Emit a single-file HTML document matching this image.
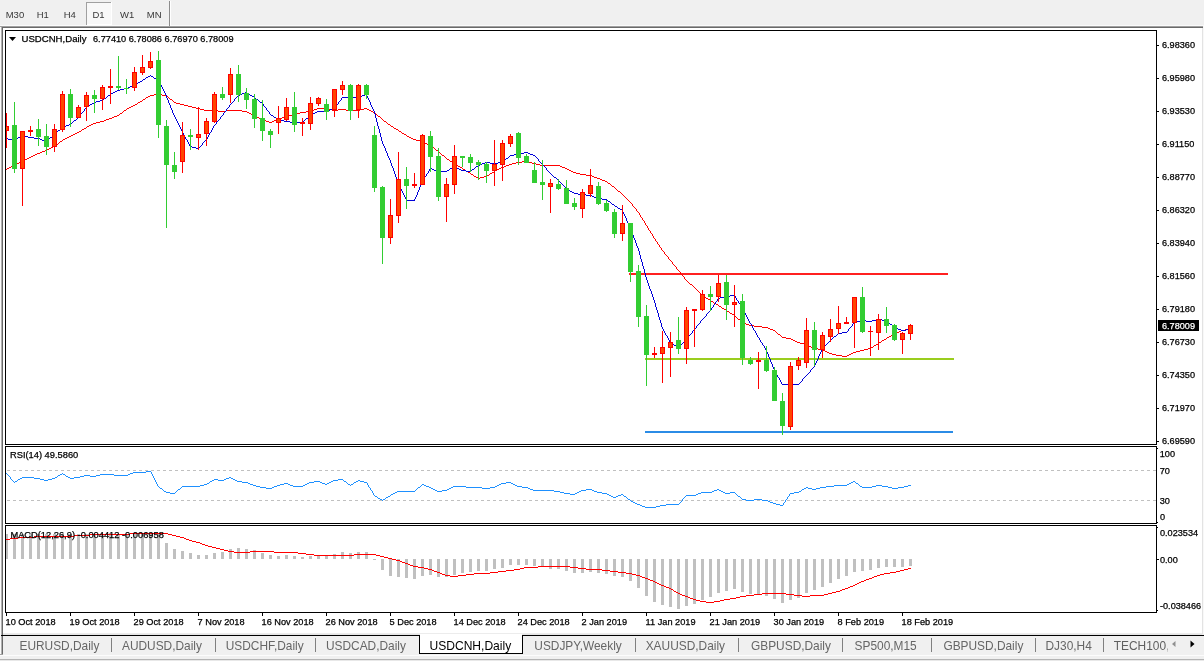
<!DOCTYPE html>
<html><head><meta charset="utf-8"><title>USDCNH,Daily</title>
<style>html,body{margin:0;padding:0;background:#f0f0f0;overflow:hidden}svg{display:block}text{font-family:"Liberation Sans",sans-serif;}</style></head><body>
<svg width="1204" height="661" viewBox="0 0 1204 661">
<g shape-rendering="crispEdges">
<rect x="0" y="0" width="1204" height="661" fill="#f0f0f0"/>
<rect x="0" y="25" width="1204" height="1" fill="#fafafa"/>
<rect x="0" y="26" width="1204" height="1" fill="#a0a0a0"/>
<rect x="1" y="27" width="1203" height="1" fill="#696969"/>
<rect x="3" y="28" width="1199" height="606" fill="#ffffff"/>
<rect x="0" y="27" width="1" height="628" fill="#fafafa"/>
<rect x="1" y="27" width="1" height="627" fill="#b0b0b0"/>
<rect x="2" y="27" width="1" height="627" fill="#696969"/>
<rect x="0" y="654" width="3" height="1" fill="#a0a0a0"/>
<rect x="86" y="2" width="26" height="23" fill="#f8f8f8"/>
<rect x="86" y="2" width="25" height="1" fill="#a0a0a0"/>
<rect x="86" y="2" width="1" height="23" fill="#a0a0a0"/>
<rect x="111" y="2" width="1" height="23" fill="#ffffff"/>
<rect x="87" y="24" width="25" height="1" fill="#ffffff"/>
<rect x="169" y="1" width="1" height="25" fill="#8c8c8c"/>
<rect x="170" y="1" width="1" height="25" fill="#ffffff"/>
<rect x="5.5" y="30.5" width="1151" height="414" fill="none" stroke="#000" stroke-width="1"/>
<rect x="5.5" y="446.5" width="1151" height="77" fill="none" stroke="#000" stroke-width="1"/>
<rect x="5.5" y="525.5" width="1151" height="87" fill="none" stroke="#000" stroke-width="1"/>
<rect x="629" y="273" width="319" height="2" fill="#ff2020"/>
<rect x="645" y="358" width="309" height="2" fill="#9acd1e"/>
<rect x="645" y="431" width="308" height="2" fill="#2b8ce6"/>
<clipPath id="cm"><rect x="6" y="31" width="1150" height="413"/></clipPath>
<g clip-path="url(#cm)">
<path d="M25 159h2v1h-2zM447 159h2v1h-2zM87 126h2v1h-2zM391 126h2v1h-2zM33 155h2v1h-2zM442 155h2v1h-2zM21 161h2v1h-2zM450 161h2v1h-2zM522 161h6v1h-6zM96 122h4v1h-4zM269 122h3v1h-3zM386 122h1v1h-1zM730 313h2v1h-2zM773 330h2v1h-2zM901 330h4v1h-4zM63 139h2v1h-2zM413 139h3v1h-3zM124 110h2v1h-2zM204 110h14v1h-14zM226 110h16v1h-16zM312 110h2v1h-2zM332 110h6v1h-6zM346 110h14v1h-14zM369 110h2v1h-2zM473 175h1v1h-1zM487 175h2v1h-2zM586 175h6v1h-6zM836 355h6v1h-6zM847 355h2v1h-2zM119 114h1v1h-1zM251 114h2v1h-2zM292 114h4v1h-4zM376 114h1v1h-1zM13 165h2v1h-2zM457 165h1v1h-1zM506 165h3v1h-3zM540 165h20v1h-20zM672 263h1v1h-1zM612 186h2v1h-2zM762 327h6v1h-6zM37 153h3v1h-3zM440 153h1v1h-1zM133 105h2v1h-2zM184 105h4v1h-4zM79 131h2v1h-2zM399 131h2v1h-2zM3 170h2v1h-2zM465 170h1v1h-1zM495 170h2v1h-2zM569 170h2v1h-2zM11 166h2v1h-2zM458 166h2v1h-2zM504 166h2v1h-2zM560 166h2v1h-2zM818 349h5v1h-5zM864 349h4v1h-4zM62 140h1v1h-1zM416 140h4v1h-4zM19 162h2v1h-2zM452 162h2v1h-2zM516 162h6v1h-6zM528 162h4v1h-4zM123 111h1v1h-1zM218 111h8v1h-8zM242 111h5v1h-5zM306 111h6v1h-6zM371 111h2v1h-2zM614 187h1v1h-1zM724 309h2v1h-2zM5 169h2v1h-2zM463 169h2v1h-2zM497 169h2v1h-2zM567 169h2v1h-2zM471 174h2v1h-2zM489 174h1v1h-1zM580 174h6v1h-6zM148 96h2v1h-2zM167 96h1v1h-1zM746 324h3v1h-3zM131 106h2v1h-2zM188 106h4v1h-4zM53 146h2v1h-2zM431 146h1v1h-1zM1 171h2v1h-2zM466 171h2v1h-2zM494 171h1v1h-1zM571 171h2v1h-2zM474 176h2v1h-2zM484 176h3v1h-3zM592 176h2v1h-2zM122 112h1v1h-1zM247 112h2v1h-2zM300 112h6v1h-6zM373 112h2v1h-2zM636 210h1v1h-1zM832 354h4v1h-4zM849 354h2v1h-2zM106 119h3v1h-3zM261 119h3v1h-3zM277 119h3v1h-3zM382 119h1v1h-1zM65 138h2v1h-2zM411 138h2v1h-2zM127 108h2v1h-2zM196 108h4v1h-4zM317 108h11v1h-11zM364 108h3v1h-3zM126 109h1v1h-1zM200 109h4v1h-4zM314 109h3v1h-3zM328 109h4v1h-4zM338 109h8v1h-8zM360 109h4v1h-4zM367 109h2v1h-2zM701 294h1v1h-1zM727 311h2v1h-2zM827 352h2v1h-2zM853 352h3v1h-3zM776 332h1v1h-1zM897 332h2v1h-2zM75 133h2v1h-2zM402 133h2v1h-2zM109 118h3v1h-3zM259 118h2v1h-2zM280 118h2v1h-2zM381 118h1v1h-1zM154 94h8v1h-8zM754 326h8v1h-8zM661 248h1v1h-1zM690 284h2v1h-2zM742 322h2v1h-2zM702 295h1v1h-1zM56 144h2v1h-2zM427 144h2v1h-2zM782 337h4v1h-4zM887 337h2v1h-2zM29 157h2v1h-2zM445 157h1v1h-1zM-1 172h2v1h-2zM468 172h2v1h-2zM492 172h2v1h-2zM573 172h3v1h-3zM81 130h1v1h-1zM398 130h1v1h-1zM55 145h1v1h-1zM429 145h2v1h-2zM665 254h1v1h-1zM60 141h2v1h-2zM420 141h3v1h-3zM823 350h2v1h-2zM860 350h4v1h-4zM117 115h2v1h-2zM253 115h2v1h-2zM288 115h4v1h-4zM377 115h1v1h-1zM476 177h2v1h-2zM480 177h4v1h-4zM594 177h3v1h-3zM-2 173h1v1h-1zM470 173h1v1h-1zM490 173h2v1h-2zM576 173h4v1h-4zM786 338h5v1h-5zM886 338h1v1h-1zM829 353h3v1h-3zM851 353h2v1h-2zM749 325h5v1h-5zM129 107h2v1h-2zM192 107h4v1h-4zM140 101h2v1h-2zM173 101h1v1h-1zM780 335h1v1h-1zM891 335h2v1h-2zM59 142h1v1h-1zM423 142h2v1h-2zM15 164h2v1h-2zM455 164h2v1h-2zM509 164h3v1h-3zM536 164h4v1h-4zM478 178h2v1h-2zM597 178h3v1h-3zM672 262h1v1h-1zM842 356h5v1h-5zM84 128h2v1h-2zM394 128h2v1h-2zM145 98h1v1h-1zM169 98h1v1h-1zM58 143h1v1h-1zM425 143h2v1h-2zM31 156h2v1h-2zM444 156h1v1h-1zM93 123h3v1h-3zM387 123h1v1h-1zM40 152h2v1h-2zM439 152h1v1h-1zM137 103h1v1h-1zM176 103h4v1h-4zM9 167h2v1h-2zM460 167h2v1h-2zM501 167h3v1h-3zM562 167h3v1h-3zM825 351h2v1h-2zM856 351h4v1h-4zM683 276h1v1h-1zM738 319h2v1h-2zM100 121h4v1h-4zM266 121h3v1h-3zM272 121h2v1h-2zM384 121h2v1h-2zM660 247h1v1h-1zM778 334h2v1h-2zM893 334h2v1h-2zM608 183h2v1h-2zM600 179h2v1h-2zM636 209h1v1h-1zM620 192h1v1h-1zM791 339h2v1h-2zM884 339h2v1h-2zM719 306h2v1h-2zM602 180h3v1h-3zM621 193h1v1h-1zM71 135h2v1h-2zM406 135h1v1h-1zM671 261h1v1h-1zM781 336h1v1h-1zM889 336h2v1h-2zM722 308h2v1h-2zM800 343h4v1h-4zM878 343h1v1h-1zM112 117h2v1h-2zM257 117h2v1h-2zM282 117h3v1h-3zM380 117h1v1h-1zM7 168h2v1h-2zM462 168h1v1h-1zM499 168h2v1h-2zM565 168h2v1h-2zM605 181h2v1h-2zM714 303h2v1h-2zM114 116h3v1h-3zM255 116h2v1h-2zM285 116h3v1h-3zM378 116h2v1h-2zM89 125h2v1h-2zM390 125h1v1h-1zM716 304h2v1h-2zM770 329h3v1h-3zM905 329h4v1h-4zM120 113h2v1h-2zM249 113h2v1h-2zM296 113h4v1h-4zM375 113h1v1h-1zM628 200h1v1h-1zM35 154h2v1h-2zM441 154h1v1h-1zM634 207h1v1h-1zM635 208h1v1h-1zM146 97h2v1h-2zM168 97h1v1h-1zM143 99h2v1h-2zM170 99h2v1h-2zM664 253h1v1h-1zM775 331h1v1h-1zM899 331h2v1h-2zM797 342h3v1h-3zM879 342h2v1h-2zM138 102h2v1h-2zM174 102h2v1h-2zM686 280h1v1h-1zM51 147h2v1h-2zM432 147h2v1h-2zM768 328h2v1h-2zM813 348h5v1h-5zM868 348h3v1h-3zM67 137h2v1h-2zM409 137h2v1h-2zM793 340h2v1h-2zM882 340h2v1h-2zM150 95h4v1h-4zM162 95h5v1h-5zM807 345h2v1h-2zM874 345h2v1h-2zM47 149h2v1h-2zM435 149h1v1h-1zM17 163h2v1h-2zM454 163h1v1h-1zM512 163h4v1h-4zM532 163h4v1h-4zM674 265h1v1h-1zM615 188h1v1h-1zM627 199h1v1h-1zM809 346h2v1h-2zM873 346h1v1h-1zM696 289h1v1h-1zM675 266h1v1h-1zM23 160h2v1h-2zM449 160h1v1h-1zM616 189h1v1h-1zM104 120h2v1h-2zM264 120h2v1h-2zM274 120h3v1h-3zM383 120h1v1h-1zM86 127h1v1h-1zM393 127h1v1h-1zM697 290h1v1h-1zM77 132h2v1h-2zM401 132h1v1h-1zM708 299h2v1h-2zM811 347h2v1h-2zM871 347h2v1h-2zM82 129h2v1h-2zM396 129h2v1h-2zM27 158h2v1h-2zM446 158h1v1h-1zM642 219h1v1h-1zM663 251h1v1h-1zM804 344h3v1h-3zM876 344h2v1h-2zM135 104h2v1h-2zM180 104h4v1h-4zM42 151h3v1h-3zM438 151h1v1h-1zM703 296h2v1h-2zM664 252h1v1h-1zM706 298h2v1h-2zM685 279h1v1h-1zM73 134h2v1h-2zM404 134h2v1h-2zM637 211h1v1h-1zM645 224h1v1h-1zM648 229h1v1h-1zM729 312h1v1h-1zM638 212h1v1h-1zM795 341h2v1h-2zM881 341h1v1h-1zM641 217h1v1h-1zM91 124h2v1h-2zM388 124h2v1h-2zM611 185h1v1h-1zM623 195h1v1h-1zM732 314h2v1h-2zM69 136h2v1h-2zM407 136h2v1h-2zM744 323h2v1h-2zM49 148h2v1h-2zM434 148h1v1h-1zM640 216h1v1h-1zM684 277h1v1h-1zM644 222h1v1h-1zM610 184h1v1h-1zM666 255h1v1h-1zM622 194h1v1h-1zM692 285h1v1h-1zM677 269h1v1h-1zM629 201h1v1h-1zM45 150h2v1h-2zM436 150h2v1h-2zM607 182h1v1h-1zM699 292h1v1h-1zM640 215h1v1h-1zM721 307h1v1h-1zM740 320h1v1h-1zM644 221h1v1h-1zM777 333h1v1h-1zM895 333h2v1h-2zM676 268h1v1h-1zM142 100h1v1h-1zM172 100h1v1h-1zM698 291h1v1h-1zM639 214h1v1h-1zM618 191h2v1h-2zM647 227h1v1h-1zM655 240h1v1h-1zM687 281h1v1h-1zM711 301h2v1h-2zM669 259h1v1h-1zM713 302h1v1h-1zM676 267h1v1h-1zM617 190h1v1h-1zM680 273h1v1h-1zM650 232h1v1h-1zM632 205h1v1h-1zM653 237h1v1h-1zM682 275h1v1h-1zM643 220h1v1h-1zM646 225h1v1h-1zM654 238h1v1h-1zM639 213h1v1h-1zM647 226h1v1h-1zM668 258h1v1h-1zM734 315h1v1h-1zM705 297h1v1h-1zM735 316h1v1h-1zM694 287h1v1h-1zM679 271h1v1h-1zM649 230h1v1h-1zM657 243h1v1h-1zM642 218h1v1h-1zM650 231h1v1h-1zM653 236h1v1h-1zM667 256h1v1h-1zM624 196h1v1h-1zM668 257h1v1h-1zM678 270h1v1h-1zM693 286h1v1h-1zM645 223h1v1h-1zM648 228h1v1h-1zM657 242h1v1h-1zM741 321h1v1h-1zM726 310h1v1h-1zM630 202h1v1h-1zM631 203h1v1h-1zM652 235h1v1h-1zM700 293h1v1h-1zM656 241h1v1h-1zM689 283h1v1h-1zM670 260h1v1h-1zM736 317h1v1h-1zM718 305h1v1h-1zM737 318h1v1h-1zM651 233h1v1h-1zM659 246h1v1h-1zM688 282h1v1h-1zM652 234h1v1h-1zM681 274h1v1h-1zM633 206h1v1h-1zM655 239h1v1h-1zM658 244h1v1h-1zM710 300h1v1h-1zM659 245h1v1h-1zM625 197h1v1h-1zM673 264h1v1h-1zM626 198h1v1h-1zM695 288h1v1h-1zM680 272h1v1h-1zM632 204h1v1h-1zM661 249h1v1h-1zM684 278h1v1h-1zM662 250h1v1h-1z" fill="#ff0000"/>
<path d="M390 162h1v1h-1zM485 162h5v1h-5zM498 162h5v1h-5zM540 162h1v1h-1zM150 75h1v1h-1zM396 177h1v1h-1zM424 177h1v1h-1zM554 177h2v1h-2zM142 80h1v1h-1zM158 80h1v1h-1zM766 350h1v1h-1zM821 350h1v1h-1zM2 138h6v1h-6zM17 138h1v1h-1zM34 138h6v1h-6zM49 138h1v1h-1zM185 138h1v1h-1zM207 138h1v1h-1zM381 138h1v1h-1zM769 358h1v1h-1zM818 358h1v1h-1zM393 170h1v1h-1zM429 170h1v1h-1zM434 170h3v1h-3zM447 170h2v1h-2zM461 170h5v1h-5zM471 170h1v1h-1zM547 170h1v1h-1zM133 85h2v1h-2zM161 85h1v1h-1zM392 166h1v1h-1zM454 166h1v1h-1zM476 166h2v1h-2zM544 166h1v1h-1zM663 330h1v1h-1zM693 330h1v1h-1zM754 330h1v1h-1zM848 330h1v1h-1zM901 330h5v1h-5zM389 159h1v1h-1zM505 159h1v1h-1zM538 159h1v1h-1zM390 161h1v1h-1zM503 161h1v1h-1zM539 161h1v1h-1zM113 92h2v1h-2zM164 92h1v1h-1zM245 92h2v1h-2zM106 97h1v1h-1zM166 97h1v1h-1zM236 97h1v1h-1zM254 97h1v1h-1zM342 97h18v1h-18zM367 97h1v1h-1zM393 169h1v1h-1zM429 169h1v1h-1zM432 169h2v1h-2zM449 169h1v1h-1zM459 169h2v1h-2zM472 169h2v1h-2zM546 169h1v1h-1zM782 384h17v1h-17zM146 77h2v1h-2zM153 77h1v1h-1zM391 164h1v1h-1zM480 164h2v1h-2zM542 164h1v1h-1zM392 167h1v1h-1zM452 167h2v1h-2zM455 167h2v1h-2zM475 167h1v1h-1zM545 167h1v1h-1zM111 93h2v1h-2zM165 93h1v1h-1zM242 93h3v1h-3zM247 93h2v1h-2zM676 346h2v1h-2zM679 346h1v1h-1zM764 346h1v1h-1zM824 346h1v1h-1zM73 121h1v1h-1zM177 121h1v1h-1zM217 121h1v1h-1zM284 121h6v1h-6zM303 121h1v1h-1zM376 121h1v1h-1zM772 365h1v1h-1zM814 365h1v1h-1zM104 98h2v1h-2zM167 98h1v1h-1zM235 98h1v1h-1zM255 98h1v1h-1zM341 98h1v1h-1zM368 98h1v1h-1zM652 295h1v1h-1zM730 295h5v1h-5zM612 204h2v1h-2zM649 288h1v1h-1zM780 381h1v1h-1zM801 381h1v1h-1zM663 329h1v1h-1zM694 329h1v1h-1zM753 329h1v1h-1zM848 329h1v1h-1zM898 329h3v1h-3zM906 329h5v1h-5zM397 180h1v1h-1zM423 180h1v1h-1zM558 180h1v1h-1zM8 139h4v1h-4zM15 139h2v1h-2zM40 139h2v1h-2zM48 139h1v1h-1zM186 139h1v1h-1zM206 139h1v1h-1zM381 139h1v1h-1zM92 103h2v1h-2zM169 103h1v1h-1zM231 103h1v1h-1zM262 103h1v1h-1zM338 103h1v1h-1zM370 103h1v1h-1zM386 152h1v1h-1zM524 152h4v1h-4zM71 123h1v1h-1zM178 123h1v1h-1zM216 123h1v1h-1zM377 123h1v1h-1zM110 94h1v1h-1zM165 94h1v1h-1zM240 94h2v1h-2zM249 94h1v1h-1zM365 94h2v1h-2zM100 100h3v1h-3zM168 100h1v1h-1zM234 100h1v1h-1zM258 100h1v1h-1zM340 100h1v1h-1zM369 100h1v1h-1zM614 205h1v1h-1zM399 186h1v1h-1zM420 186h1v1h-1zM564 186h1v1h-1zM658 315h1v1h-1zM706 315h1v1h-1zM746 315h1v1h-1zM117 90h3v1h-3zM163 90h1v1h-1zM665 334h1v1h-1zM690 334h1v1h-1zM756 334h1v1h-1zM837 334h1v1h-1zM777 375h1v1h-1zM806 375h1v1h-1zM661 324h1v1h-1zM698 324h1v1h-1zM751 324h1v1h-1zM852 324h1v1h-1zM890 324h2v1h-2zM87 106h2v1h-2zM170 106h1v1h-1zM229 106h1v1h-1zM264 106h1v1h-1zM335 106h1v1h-1zM371 106h1v1h-1zM660 320h1v1h-1zM701 320h1v1h-1zM748 320h1v1h-1zM860 320h6v1h-6zM872 320h4v1h-4zM882 320h5v1h-5zM387 153h1v1h-1zM520 153h4v1h-4zM528 153h2v1h-2zM395 176h1v1h-1zM425 176h1v1h-1zM553 176h1v1h-1zM64 126h2v1h-2zM179 126h1v1h-1zM213 126h1v1h-1zM378 126h1v1h-1zM83 111h1v1h-1zM172 111h1v1h-1zM225 111h1v1h-1zM268 111h1v1h-1zM317 111h11v1h-11zM374 111h1v1h-1zM655 303h1v1h-1zM715 303h1v1h-1zM739 303h1v1h-1zM393 168h1v1h-1zM430 168h2v1h-2zM450 168h2v1h-2zM457 168h2v1h-2zM474 168h1v1h-1zM546 168h1v1h-1zM387 154h1v1h-1zM514 154h6v1h-6zM530 154h3v1h-3zM667 337h1v1h-1zM688 337h1v1h-1zM758 337h1v1h-1zM833 337h1v1h-1zM66 125h3v1h-3zM179 125h1v1h-1zM214 125h1v1h-1zM377 125h1v1h-1zM390 160h1v1h-1zM504 160h1v1h-1zM538 160h1v1h-1zM405 198h1v1h-1zM415 198h1v1h-1zM597 198h5v1h-5zM628 224h1v1h-1zM78 117h1v1h-1zM175 117h1v1h-1zM220 117h1v1h-1zM274 117h2v1h-2zM308 117h1v1h-1zM375 117h1v1h-1zM656 309h1v1h-1zM711 309h1v1h-1zM743 309h1v1h-1zM394 171h1v1h-1zM428 171h1v1h-1zM437 171h10v1h-10zM466 171h5v1h-5zM548 171h1v1h-1zM406 200h9v1h-9zM607 200h1v1h-1zM641 261h1v1h-1zM404 196h1v1h-1zM416 196h1v1h-1zM592 196h2v1h-2zM406 199h1v1h-1zM414 199h1v1h-1zM602 199h5v1h-5zM84 110h1v1h-1zM172 110h1v1h-1zM226 110h1v1h-1zM267 110h1v1h-1zM328 110h2v1h-2zM373 110h1v1h-1zM72 122h1v1h-1zM177 122h1v1h-1zM216 122h1v1h-1zM290 122h13v1h-13zM377 122h1v1h-1zM94 102h2v1h-2zM168 102h1v1h-1zM232 102h1v1h-1zM260 102h2v1h-2zM338 102h1v1h-1zM370 102h1v1h-1zM642 262h1v1h-1zM138 82h2v1h-2zM159 82h1v1h-1zM90 104h2v1h-2zM169 104h1v1h-1zM230 104h1v1h-1zM263 104h1v1h-1zM337 104h1v1h-1zM370 104h1v1h-1zM55 133h1v1h-1zM183 133h1v1h-1zM209 133h1v1h-1zM380 133h1v1h-1zM652 294h1v1h-1zM403 194h1v1h-1zM417 194h1v1h-1zM578 194h8v1h-8zM670 342h1v1h-1zM683 342h1v1h-1zM761 342h1v1h-1zM828 342h1v1h-1zM635 241h1v1h-1zM659 319h1v1h-1zM702 319h1v1h-1zM748 319h1v1h-1zM876 319h6v1h-6zM79 116h1v1h-1zM174 116h1v1h-1zM221 116h1v1h-1zM273 116h1v1h-1zM309 116h1v1h-1zM375 116h1v1h-1zM189 145h1v1h-1zM201 145h1v1h-1zM383 145h1v1h-1zM82 112h1v1h-1zM172 112h1v1h-1zM224 112h1v1h-1zM269 112h1v1h-1zM315 112h2v1h-2zM374 112h1v1h-1zM662 327h1v1h-1zM696 327h1v1h-1zM752 327h1v1h-1zM850 327h1v1h-1zM894 327h2v1h-2zM401 189h1v1h-1zM419 189h1v1h-1zM567 189h2v1h-2zM22 135h2v1h-2zM53 135h1v1h-1zM184 135h1v1h-1zM208 135h1v1h-1zM380 135h1v1h-1zM12 140h3v1h-3zM42 140h3v1h-3zM47 140h1v1h-1zM187 140h1v1h-1zM205 140h1v1h-1zM381 140h1v1h-1zM20 136h2v1h-2zM24 136h4v1h-4zM52 136h1v1h-1zM184 136h1v1h-1zM208 136h1v1h-1zM380 136h1v1h-1zM404 195h1v1h-1zM416 195h1v1h-1zM586 195h6v1h-6zM779 379h1v1h-1zM802 379h1v1h-1zM389 158h1v1h-1zM506 158h2v1h-2zM537 158h1v1h-1zM660 321h1v1h-1zM700 321h1v1h-1zM749 321h1v1h-1zM856 321h4v1h-4zM866 321h6v1h-6zM887 321h1v1h-1zM657 311h1v1h-1zM709 311h1v1h-1zM744 311h1v1h-1zM656 307h1v1h-1zM712 307h1v1h-1zM741 307h1v1h-1zM-2 137h4v1h-4zM18 137h2v1h-2zM28 137h6v1h-6zM50 137h2v1h-2zM185 137h1v1h-1zM207 137h1v1h-1zM381 137h1v1h-1zM74 120h2v1h-2zM176 120h1v1h-1zM218 120h1v1h-1zM280 120h4v1h-4zM304 120h1v1h-1zM376 120h1v1h-1zM631 230h1v1h-1zM192 147h4v1h-4zM199 147h1v1h-1zM384 147h1v1h-1zM396 178h1v1h-1zM424 178h1v1h-1zM556 178h1v1h-1zM387 155h1v1h-1zM510 155h4v1h-4zM533 155h2v1h-2zM397 179h1v1h-1zM423 179h1v1h-1zM557 179h1v1h-1zM652 296h1v1h-1zM724 296h6v1h-6zM735 296h1v1h-1zM386 151h1v1h-1zM654 301h1v1h-1zM716 301h1v1h-1zM738 301h1v1h-1zM669 341h1v1h-1zM684 341h1v1h-1zM760 341h1v1h-1zM829 341h1v1h-1zM659 317h1v1h-1zM704 317h1v1h-1zM747 317h1v1h-1zM58 130h2v1h-2zM181 130h1v1h-1zM211 130h1v1h-1zM379 130h1v1h-1zM190 146h2v1h-2zM200 146h1v1h-1zM384 146h1v1h-1zM188 142h1v1h-1zM203 142h1v1h-1zM382 142h1v1h-1zM56 132h1v1h-1zM182 132h1v1h-1zM210 132h1v1h-1zM379 132h1v1h-1zM769 357h1v1h-1zM818 357h1v1h-1zM45 141h2v1h-2zM187 141h1v1h-1zM204 141h1v1h-1zM382 141h1v1h-1zM669 340h1v1h-1zM685 340h1v1h-1zM760 340h1v1h-1zM830 340h1v1h-1zM60 129h1v1h-1zM181 129h1v1h-1zM212 129h1v1h-1zM379 129h1v1h-1zM76 119h1v1h-1zM176 119h1v1h-1zM219 119h1v1h-1zM278 119h2v1h-2zM305 119h1v1h-1zM376 119h1v1h-1zM84 109h1v1h-1zM171 109h1v1h-1zM226 109h1v1h-1zM266 109h1v1h-1zM330 109h3v1h-3zM373 109h1v1h-1zM768 356h1v1h-1zM818 356h1v1h-1zM645 276h1v1h-1zM77 118h1v1h-1zM175 118h1v1h-1zM220 118h1v1h-1zM276 118h2v1h-2zM306 118h2v1h-2zM376 118h1v1h-1zM608 201h2v1h-2zM399 185h1v1h-1zM420 185h1v1h-1zM563 185h1v1h-1zM124 88h4v1h-4zM162 88h1v1h-1zM85 108h1v1h-1zM171 108h1v1h-1zM227 108h1v1h-1zM266 108h1v1h-1zM333 108h2v1h-2zM372 108h1v1h-1zM108 95h2v1h-2zM166 95h1v1h-1zM238 95h2v1h-2zM250 95h2v1h-2zM362 95h3v1h-3zM366 95h1v1h-1zM402 191h1v1h-1zM418 191h1v1h-1zM570 191h2v1h-2zM658 313h1v1h-1zM707 313h1v1h-1zM745 313h1v1h-1zM196 148h3v1h-3zM385 148h1v1h-1zM653 297h1v1h-1zM720 297h4v1h-4zM735 297h1v1h-1zM666 335h1v1h-1zM689 335h1v1h-1zM757 335h1v1h-1zM836 335h1v1h-1zM641 260h1v1h-1zM651 292h1v1h-1zM103 99h1v1h-1zM167 99h1v1h-1zM234 99h1v1h-1zM256 99h2v1h-2zM341 99h1v1h-1zM368 99h1v1h-1zM634 239h1v1h-1zM130 86h3v1h-3zM161 86h1v1h-1zM770 360h1v1h-1zM817 360h1v1h-1zM644 270h1v1h-1zM775 372h1v1h-1zM809 372h1v1h-1zM661 326h1v1h-1zM696 326h1v1h-1zM752 326h1v1h-1zM851 326h1v1h-1zM893 326h1v1h-1zM400 188h1v1h-1zM419 188h1v1h-1zM566 188h1v1h-1zM630 228h1v1h-1zM648 285h1v1h-1zM638 250h1v1h-1zM143 79h2v1h-2zM156 79h2v1h-2zM80 115h1v1h-1zM174 115h1v1h-1zM222 115h1v1h-1zM271 115h2v1h-2zM310 115h1v1h-1zM375 115h1v1h-1zM667 336h1v1h-1zM688 336h1v1h-1zM757 336h1v1h-1zM834 336h2v1h-2zM385 149h1v1h-1zM80 114h1v1h-1zM173 114h1v1h-1zM223 114h1v1h-1zM270 114h1v1h-1zM311 114h2v1h-2zM375 114h1v1h-1zM773 367h1v1h-1zM813 367h1v1h-1zM61 128h1v1h-1zM180 128h1v1h-1zM212 128h1v1h-1zM378 128h1v1h-1zM627 222h1v1h-1zM86 107h1v1h-1zM170 107h1v1h-1zM228 107h1v1h-1zM265 107h1v1h-1zM335 107h1v1h-1zM372 107h1v1h-1zM403 193h1v1h-1zM417 193h1v1h-1zM574 193h4v1h-4zM662 328h1v1h-1zM695 328h1v1h-1zM753 328h1v1h-1zM849 328h1v1h-1zM896 328h2v1h-2zM776 373h1v1h-1zM808 373h1v1h-1zM69 124h2v1h-2zM178 124h1v1h-1zM215 124h1v1h-1zM377 124h1v1h-1zM665 333h1v1h-1zM691 333h1v1h-1zM756 333h1v1h-1zM838 333h4v1h-4zM781 383h1v1h-1zM799 383h1v1h-1zM664 332h1v1h-1zM692 332h1v1h-1zM755 332h1v1h-1zM842 332h5v1h-5zM397 181h1v1h-1zM422 181h1v1h-1zM559 181h1v1h-1zM778 377h1v1h-1zM804 377h1v1h-1zM651 291h1v1h-1zM398 182h1v1h-1zM422 182h1v1h-1zM560 182h1v1h-1zM674 345h2v1h-2zM680 345h1v1h-1zM763 345h1v1h-1zM825 345h1v1h-1zM774 370h1v1h-1zM810 370h1v1h-1zM615 206h2v1h-2zM654 302h1v1h-1zM715 302h1v1h-1zM738 302h1v1h-1zM391 163h1v1h-1zM482 163h3v1h-3zM490 163h8v1h-8zM541 163h1v1h-1zM57 131h1v1h-1zM182 131h1v1h-1zM211 131h1v1h-1zM379 131h1v1h-1zM394 173h1v1h-1zM427 173h1v1h-1zM550 173h1v1h-1zM644 269h1v1h-1zM629 226h1v1h-1zM96 101h4v1h-4zM168 101h1v1h-1zM233 101h1v1h-1zM259 101h1v1h-1zM339 101h1v1h-1zM369 101h1v1h-1zM647 280h1v1h-1zM140 81h2v1h-2zM159 81h1v1h-1zM781 382h1v1h-1zM800 382h1v1h-1zM81 113h1v1h-1zM173 113h1v1h-1zM223 113h1v1h-1zM269 113h1v1h-1zM313 113h2v1h-2zM374 113h1v1h-1zM630 227h1v1h-1zM402 192h1v1h-1zM417 192h1v1h-1zM572 192h2v1h-2zM668 339h1v1h-1zM686 339h1v1h-1zM759 339h1v1h-1zM831 339h1v1h-1zM770 359h1v1h-1zM817 359h1v1h-1zM658 316h1v1h-1zM705 316h1v1h-1zM746 316h1v1h-1zM188 143h1v1h-1zM202 143h1v1h-1zM382 143h1v1h-1zM618 208h2v1h-2zM640 258h1v1h-1zM107 96h1v1h-1zM166 96h1v1h-1zM237 96h1v1h-1zM252 96h2v1h-2zM360 96h2v1h-2zM367 96h1v1h-1zM62 127h2v1h-2zM180 127h1v1h-1zM213 127h1v1h-1zM378 127h1v1h-1zM768 355h1v1h-1zM819 355h1v1h-1zM633 237h1v1h-1zM405 197h1v1h-1zM415 197h1v1h-1zM594 197h3v1h-3zM767 353h1v1h-1zM820 353h1v1h-1zM777 376h1v1h-1zM805 376h1v1h-1zM120 89h4v1h-4zM163 89h1v1h-1zM148 76h2v1h-2zM151 76h2v1h-2zM660 322h1v1h-1zM700 322h1v1h-1zM749 322h1v1h-1zM854 322h2v1h-2zM888 322h1v1h-1zM145 78h1v1h-1zM154 78h2v1h-2zM668 338h1v1h-1zM687 338h1v1h-1zM759 338h1v1h-1zM832 338h1v1h-1zM395 175h1v1h-1zM426 175h1v1h-1zM552 175h1v1h-1zM779 378h1v1h-1zM803 378h1v1h-1zM661 325h1v1h-1zM697 325h1v1h-1zM751 325h1v1h-1zM852 325h1v1h-1zM892 325h1v1h-1zM391 165h1v1h-1zM478 165h2v1h-2zM543 165h1v1h-1zM128 87h2v1h-2zM162 87h1v1h-1zM653 299h1v1h-1zM717 299h1v1h-1zM736 299h1v1h-1zM659 318h1v1h-1zM703 318h1v1h-1zM747 318h1v1h-1zM646 278h1v1h-1zM626 220h1v1h-1zM654 300h1v1h-1zM717 300h1v1h-1zM737 300h1v1h-1zM771 362h1v1h-1zM816 362h1v1h-1zM629 225h1v1h-1zM388 156h1v1h-1zM509 156h1v1h-1zM535 156h1v1h-1zM657 310h1v1h-1zM710 310h1v1h-1zM743 310h1v1h-1zM611 203h1v1h-1zM640 257h1v1h-1zM656 308h1v1h-1zM711 308h1v1h-1zM742 308h1v1h-1zM650 289h1v1h-1zM776 374h1v1h-1zM807 374h1v1h-1zM768 354h1v1h-1zM819 354h1v1h-1zM633 236h1v1h-1zM643 268h1v1h-1zM653 298h1v1h-1zM718 298h2v1h-2zM736 298h1v1h-1zM639 252h1v1h-1zM678 347h1v1h-1zM764 347h1v1h-1zM823 347h1v1h-1zM395 174h1v1h-1zM426 174h1v1h-1zM551 174h1v1h-1zM671 343h2v1h-2zM682 343h1v1h-1zM762 343h1v1h-1zM827 343h1v1h-1zM646 277h1v1h-1zM626 219h1v1h-1zM401 190h1v1h-1zM418 190h1v1h-1zM569 190h1v1h-1zM398 184h1v1h-1zM421 184h1v1h-1zM562 184h1v1h-1zM610 202h1v1h-1zM664 331h1v1h-1zM692 331h1v1h-1zM755 331h1v1h-1zM847 331h1v1h-1zM766 351h1v1h-1zM821 351h1v1h-1zM54 134h1v1h-1zM183 134h1v1h-1zM209 134h1v1h-1zM380 134h1v1h-1zM673 344h1v1h-1zM681 344h1v1h-1zM762 344h1v1h-1zM826 344h1v1h-1zM649 287h1v1h-1zM780 380h1v1h-1zM802 380h1v1h-1zM135 84h2v1h-2zM160 84h1v1h-1zM398 183h1v1h-1zM421 183h1v1h-1zM561 183h1v1h-1zM632 234h1v1h-1zM773 368h1v1h-1zM812 368h1v1h-1zM772 364h1v1h-1zM815 364h1v1h-1zM643 267h1v1h-1zM658 314h1v1h-1zM706 314h1v1h-1zM745 314h1v1h-1zM775 371h1v1h-1zM810 371h1v1h-1zM639 251h1v1h-1zM661 323h1v1h-1zM699 323h1v1h-1zM750 323h1v1h-1zM853 323h1v1h-1zM889 323h1v1h-1zM628 223h1v1h-1zM89 105h1v1h-1zM170 105h1v1h-1zM229 105h1v1h-1zM263 105h1v1h-1zM336 105h1v1h-1zM371 105h1v1h-1zM636 245h1v1h-1zM635 240h1v1h-1zM625 217h1v1h-1zM189 144h1v1h-1zM202 144h1v1h-1zM383 144h1v1h-1zM655 304h1v1h-1zM714 304h1v1h-1zM740 304h1v1h-1zM765 349h1v1h-1zM822 349h1v1h-1zM394 172h1v1h-1zM428 172h1v1h-1zM549 172h1v1h-1zM772 366h1v1h-1zM814 366h1v1h-1zM649 286h1v1h-1zM632 233h1v1h-1zM642 265h1v1h-1zM645 275h1v1h-1zM620 209h2v1h-2zM641 259h1v1h-1zM115 91h2v1h-2zM164 91h1v1h-1zM634 238h1v1h-1zM765 348h1v1h-1zM822 348h1v1h-1zM400 187h1v1h-1zM419 187h1v1h-1zM565 187h1v1h-1zM648 284h1v1h-1zM638 249h1v1h-1zM137 83h1v1h-1zM160 83h1v1h-1zM388 157h1v1h-1zM508 157h1v1h-1zM536 157h1v1h-1zM655 306h1v1h-1zM713 306h1v1h-1zM741 306h1v1h-1zM642 264h1v1h-1zM627 221h1v1h-1zM624 215h1v1h-1zM645 274h1v1h-1zM657 312h1v1h-1zM708 312h1v1h-1zM744 312h1v1h-1zM774 369h1v1h-1zM811 369h1v1h-1zM633 235h1v1h-1zM637 247h1v1h-1zM617 207h1v1h-1zM648 283h1v1h-1zM638 248h1v1h-1zM623 213h1v1h-1zM767 352h1v1h-1zM820 352h1v1h-1zM644 272h1v1h-1zM624 214h1v1h-1zM645 273h1v1h-1zM655 305h1v1h-1zM713 305h1v1h-1zM740 305h1v1h-1zM631 231h1v1h-1zM771 363h1v1h-1zM815 363h1v1h-1zM770 361h1v1h-1zM816 361h1v1h-1zM637 246h1v1h-1zM651 293h1v1h-1zM640 256h1v1h-1zM644 271h1v1h-1zM647 282h1v1h-1zM630 229h1v1h-1zM385 150h1v1h-1zM626 218h1v1h-1zM623 212h1v1h-1zM622 211h1v1h-1zM640 255h1v1h-1zM643 266h1v1h-1zM636 244h1v1h-1zM647 281h1v1h-1zM625 216h1v1h-1zM639 254h1v1h-1zM622 210h1v1h-1zM632 232h1v1h-1zM646 279h1v1h-1zM636 243h1v1h-1zM650 290h1v1h-1zM639 253h1v1h-1zM642 263h1v1h-1zM635 242h1v1h-1z" fill="#0000d8"/>
<rect x="6" y="113" width="1" height="35" fill="#ff0000"/>
<rect x="4" y="126" width="5" height="5" fill="#ff0000"/>
<rect x="5" y="127" width="3" height="3" fill="#ff4500"/>
<rect x="14" y="102" width="1" height="71" fill="#32cd32"/>
<rect x="12" y="125" width="5" height="44" fill="#32cd32"/>
<rect x="22" y="131" width="1" height="75" fill="#ff0000"/>
<rect x="20" y="131" width="5" height="38" fill="#ff0000"/>
<rect x="21" y="132" width="3" height="36" fill="#ff4500"/>
<rect x="30" y="126" width="1" height="10" fill="#ff0000"/>
<rect x="28" y="130" width="5" height="2" fill="#ff0000"/>
<rect x="38" y="119" width="1" height="27" fill="#32cd32"/>
<rect x="36" y="129" width="5" height="8" fill="#32cd32"/>
<rect x="46" y="124" width="1" height="31" fill="#32cd32"/>
<rect x="44" y="136" width="5" height="11" fill="#32cd32"/>
<rect x="54" y="124" width="1" height="28" fill="#ff0000"/>
<rect x="52" y="129" width="5" height="18" fill="#ff0000"/>
<rect x="53" y="130" width="3" height="16" fill="#ff4500"/>
<rect x="62" y="91" width="1" height="41" fill="#ff0000"/>
<rect x="60" y="94" width="5" height="36" fill="#ff0000"/>
<rect x="61" y="95" width="3" height="34" fill="#ff4500"/>
<rect x="70" y="89" width="1" height="38" fill="#32cd32"/>
<rect x="68" y="94" width="5" height="24" fill="#32cd32"/>
<rect x="78" y="105" width="1" height="13" fill="#ff0000"/>
<rect x="76" y="107" width="5" height="11" fill="#ff0000"/>
<rect x="77" y="108" width="3" height="9" fill="#ff4500"/>
<rect x="86" y="92" width="1" height="29" fill="#ff0000"/>
<rect x="84" y="95" width="5" height="12" fill="#ff0000"/>
<rect x="85" y="96" width="3" height="10" fill="#ff4500"/>
<rect x="94" y="90" width="1" height="23" fill="#32cd32"/>
<rect x="92" y="95" width="5" height="4" fill="#32cd32"/>
<rect x="102" y="85" width="1" height="25" fill="#ff0000"/>
<rect x="100" y="87" width="5" height="12" fill="#ff0000"/>
<rect x="101" y="88" width="3" height="10" fill="#ff4500"/>
<rect x="110" y="69" width="1" height="35" fill="#ff0000"/>
<rect x="108" y="86" width="5" height="2" fill="#ff0000"/>
<rect x="118" y="56" width="1" height="34" fill="#32cd32"/>
<rect x="116" y="86" width="5" height="2" fill="#32cd32"/>
<rect x="126" y="79" width="1" height="15" fill="#32cd32"/>
<rect x="124" y="88" width="5" height="1" fill="#32cd32"/>
<rect x="134" y="67" width="1" height="24" fill="#ff0000"/>
<rect x="132" y="72" width="5" height="16" fill="#ff0000"/>
<rect x="133" y="73" width="3" height="14" fill="#ff4500"/>
<rect x="142" y="55" width="1" height="20" fill="#ff0000"/>
<rect x="140" y="67" width="5" height="6" fill="#ff0000"/>
<rect x="141" y="68" width="3" height="4" fill="#ff4500"/>
<rect x="150" y="52" width="1" height="17" fill="#ff0000"/>
<rect x="148" y="61" width="5" height="7" fill="#ff0000"/>
<rect x="149" y="62" width="3" height="5" fill="#ff4500"/>
<rect x="158" y="51" width="1" height="87" fill="#32cd32"/>
<rect x="156" y="60" width="5" height="65" fill="#32cd32"/>
<rect x="166" y="120" width="1" height="108" fill="#32cd32"/>
<rect x="164" y="126" width="5" height="39" fill="#32cd32"/>
<rect x="174" y="152" width="1" height="27" fill="#32cd32"/>
<rect x="172" y="165" width="5" height="7" fill="#32cd32"/>
<rect x="182" y="122" width="1" height="51" fill="#ff0000"/>
<rect x="180" y="135" width="5" height="27" fill="#ff0000"/>
<rect x="181" y="136" width="3" height="25" fill="#ff4500"/>
<rect x="190" y="129" width="1" height="21" fill="#32cd32"/>
<rect x="188" y="135" width="5" height="2" fill="#32cd32"/>
<rect x="198" y="107" width="1" height="43" fill="#ff0000"/>
<rect x="196" y="134" width="5" height="4" fill="#ff0000"/>
<rect x="197" y="135" width="3" height="2" fill="#ff4500"/>
<rect x="206" y="118" width="1" height="28" fill="#ff0000"/>
<rect x="204" y="121" width="5" height="13" fill="#ff0000"/>
<rect x="205" y="122" width="3" height="11" fill="#ff4500"/>
<rect x="214" y="92" width="1" height="31" fill="#ff0000"/>
<rect x="212" y="94" width="5" height="28" fill="#ff0000"/>
<rect x="213" y="95" width="3" height="26" fill="#ff4500"/>
<rect x="222" y="87" width="1" height="13" fill="#32cd32"/>
<rect x="220" y="94" width="5" height="4" fill="#32cd32"/>
<rect x="230" y="68" width="1" height="35" fill="#ff0000"/>
<rect x="228" y="74" width="5" height="21" fill="#ff0000"/>
<rect x="229" y="75" width="3" height="19" fill="#ff4500"/>
<rect x="238" y="65" width="1" height="37" fill="#32cd32"/>
<rect x="236" y="74" width="5" height="21" fill="#32cd32"/>
<rect x="246" y="88" width="1" height="21" fill="#32cd32"/>
<rect x="244" y="93" width="5" height="7" fill="#32cd32"/>
<rect x="254" y="94" width="1" height="34" fill="#32cd32"/>
<rect x="252" y="99" width="5" height="20" fill="#32cd32"/>
<rect x="262" y="100" width="1" height="41" fill="#32cd32"/>
<rect x="260" y="118" width="5" height="13" fill="#32cd32"/>
<rect x="270" y="129" width="1" height="19" fill="#32cd32"/>
<rect x="268" y="131" width="5" height="4" fill="#32cd32"/>
<rect x="278" y="106" width="1" height="28" fill="#ff0000"/>
<rect x="276" y="118" width="5" height="5" fill="#ff0000"/>
<rect x="277" y="119" width="3" height="3" fill="#ff4500"/>
<rect x="286" y="98" width="1" height="23" fill="#ff0000"/>
<rect x="284" y="107" width="5" height="13" fill="#ff0000"/>
<rect x="285" y="108" width="3" height="11" fill="#ff4500"/>
<rect x="294" y="92" width="1" height="40" fill="#32cd32"/>
<rect x="292" y="107" width="5" height="18" fill="#32cd32"/>
<rect x="302" y="118" width="1" height="18" fill="#ff0000"/>
<rect x="300" y="122" width="5" height="2" fill="#ff0000"/>
<rect x="310" y="97" width="1" height="33" fill="#ff0000"/>
<rect x="308" y="103" width="5" height="21" fill="#ff0000"/>
<rect x="309" y="104" width="3" height="19" fill="#ff4500"/>
<rect x="318" y="97" width="1" height="9" fill="#ff0000"/>
<rect x="316" y="98" width="5" height="6" fill="#ff0000"/>
<rect x="317" y="99" width="3" height="4" fill="#ff4500"/>
<rect x="326" y="99" width="1" height="21" fill="#32cd32"/>
<rect x="324" y="104" width="5" height="8" fill="#32cd32"/>
<rect x="334" y="89" width="1" height="28" fill="#ff0000"/>
<rect x="332" y="89" width="5" height="21" fill="#ff0000"/>
<rect x="333" y="90" width="3" height="19" fill="#ff4500"/>
<rect x="342" y="81" width="1" height="14" fill="#ff0000"/>
<rect x="340" y="85" width="5" height="5" fill="#ff0000"/>
<rect x="341" y="86" width="3" height="3" fill="#ff4500"/>
<rect x="350" y="84" width="1" height="36" fill="#32cd32"/>
<rect x="348" y="85" width="5" height="26" fill="#32cd32"/>
<rect x="358" y="84" width="1" height="34" fill="#ff0000"/>
<rect x="356" y="85" width="5" height="25" fill="#ff0000"/>
<rect x="357" y="86" width="3" height="23" fill="#ff4500"/>
<rect x="366" y="84" width="1" height="15" fill="#32cd32"/>
<rect x="364" y="85" width="5" height="10" fill="#32cd32"/>
<rect x="374" y="126" width="1" height="66" fill="#32cd32"/>
<rect x="372" y="135" width="5" height="53" fill="#32cd32"/>
<rect x="382" y="186" width="1" height="78" fill="#32cd32"/>
<rect x="380" y="187" width="5" height="51" fill="#32cd32"/>
<rect x="390" y="199" width="1" height="45" fill="#ff0000"/>
<rect x="388" y="215" width="5" height="23" fill="#ff0000"/>
<rect x="389" y="216" width="3" height="21" fill="#ff4500"/>
<rect x="398" y="152" width="1" height="71" fill="#ff0000"/>
<rect x="396" y="179" width="5" height="37" fill="#ff0000"/>
<rect x="397" y="180" width="3" height="35" fill="#ff4500"/>
<rect x="406" y="167" width="1" height="42" fill="#32cd32"/>
<rect x="404" y="179" width="5" height="7" fill="#32cd32"/>
<rect x="414" y="173" width="1" height="15" fill="#ff0000"/>
<rect x="412" y="184" width="5" height="2" fill="#ff0000"/>
<rect x="422" y="134" width="1" height="51" fill="#ff0000"/>
<rect x="420" y="135" width="5" height="50" fill="#ff0000"/>
<rect x="421" y="136" width="3" height="48" fill="#ff4500"/>
<rect x="430" y="131" width="1" height="41" fill="#32cd32"/>
<rect x="428" y="136" width="5" height="21" fill="#32cd32"/>
<rect x="438" y="148" width="1" height="53" fill="#32cd32"/>
<rect x="436" y="156" width="5" height="41" fill="#32cd32"/>
<rect x="446" y="178" width="1" height="44" fill="#ff0000"/>
<rect x="444" y="184" width="5" height="13" fill="#ff0000"/>
<rect x="445" y="185" width="3" height="11" fill="#ff4500"/>
<rect x="454" y="145" width="1" height="49" fill="#ff0000"/>
<rect x="452" y="156" width="5" height="29" fill="#ff0000"/>
<rect x="453" y="157" width="3" height="27" fill="#ff4500"/>
<rect x="462" y="156" width="1" height="11" fill="#32cd32"/>
<rect x="460" y="156" width="5" height="2" fill="#32cd32"/>
<rect x="470" y="154" width="1" height="18" fill="#32cd32"/>
<rect x="468" y="157" width="5" height="6" fill="#32cd32"/>
<rect x="478" y="160" width="1" height="20" fill="#32cd32"/>
<rect x="476" y="162" width="5" height="3" fill="#32cd32"/>
<rect x="486" y="162" width="1" height="21" fill="#32cd32"/>
<rect x="484" y="164" width="5" height="7" fill="#32cd32"/>
<rect x="494" y="140" width="1" height="46" fill="#ff0000"/>
<rect x="492" y="164" width="5" height="7" fill="#ff0000"/>
<rect x="493" y="165" width="3" height="5" fill="#ff4500"/>
<rect x="502" y="140" width="1" height="41" fill="#ff0000"/>
<rect x="500" y="143" width="5" height="22" fill="#ff0000"/>
<rect x="501" y="144" width="3" height="20" fill="#ff4500"/>
<rect x="510" y="134" width="1" height="13" fill="#ff0000"/>
<rect x="508" y="136" width="5" height="8" fill="#ff0000"/>
<rect x="509" y="137" width="3" height="6" fill="#ff4500"/>
<rect x="518" y="132" width="1" height="33" fill="#32cd32"/>
<rect x="516" y="133" width="5" height="25" fill="#32cd32"/>
<rect x="526" y="154" width="1" height="9" fill="#32cd32"/>
<rect x="524" y="156" width="5" height="7" fill="#32cd32"/>
<rect x="534" y="162" width="1" height="21" fill="#32cd32"/>
<rect x="532" y="170" width="5" height="13" fill="#32cd32"/>
<rect x="542" y="160" width="1" height="40" fill="#32cd32"/>
<rect x="540" y="182" width="5" height="3" fill="#32cd32"/>
<rect x="550" y="179" width="1" height="34" fill="#ff0000"/>
<rect x="548" y="183" width="5" height="4" fill="#ff0000"/>
<rect x="549" y="184" width="3" height="2" fill="#ff4500"/>
<rect x="558" y="179" width="1" height="11" fill="#32cd32"/>
<rect x="556" y="184" width="5" height="5" fill="#32cd32"/>
<rect x="566" y="180" width="1" height="24" fill="#32cd32"/>
<rect x="564" y="188" width="5" height="16" fill="#32cd32"/>
<rect x="574" y="198" width="1" height="12" fill="#32cd32"/>
<rect x="572" y="203" width="5" height="4" fill="#32cd32"/>
<rect x="582" y="189" width="1" height="29" fill="#ff0000"/>
<rect x="580" y="192" width="5" height="17" fill="#ff0000"/>
<rect x="581" y="193" width="3" height="15" fill="#ff4500"/>
<rect x="590" y="169" width="1" height="28" fill="#ff0000"/>
<rect x="588" y="185" width="5" height="9" fill="#ff0000"/>
<rect x="589" y="186" width="3" height="7" fill="#ff4500"/>
<rect x="598" y="182" width="1" height="23" fill="#32cd32"/>
<rect x="596" y="186" width="5" height="18" fill="#32cd32"/>
<rect x="606" y="200" width="1" height="12" fill="#32cd32"/>
<rect x="604" y="203" width="5" height="8" fill="#32cd32"/>
<rect x="614" y="209" width="1" height="29" fill="#32cd32"/>
<rect x="612" y="212" width="5" height="22" fill="#32cd32"/>
<rect x="622" y="205" width="1" height="36" fill="#ff0000"/>
<rect x="620" y="223" width="5" height="11" fill="#ff0000"/>
<rect x="621" y="224" width="3" height="9" fill="#ff4500"/>
<rect x="630" y="223" width="1" height="59" fill="#32cd32"/>
<rect x="628" y="223" width="5" height="49" fill="#32cd32"/>
<rect x="638" y="265" width="1" height="62" fill="#32cd32"/>
<rect x="636" y="271" width="5" height="46" fill="#32cd32"/>
<rect x="646" y="305" width="1" height="81" fill="#32cd32"/>
<rect x="644" y="316" width="5" height="39" fill="#32cd32"/>
<rect x="654" y="347" width="1" height="11" fill="#ff0000"/>
<rect x="652" y="353" width="5" height="2" fill="#ff0000"/>
<rect x="662" y="331" width="1" height="52" fill="#ff0000"/>
<rect x="660" y="347" width="5" height="7" fill="#ff0000"/>
<rect x="661" y="348" width="3" height="5" fill="#ff4500"/>
<rect x="670" y="332" width="1" height="45" fill="#ff0000"/>
<rect x="668" y="342" width="5" height="6" fill="#ff0000"/>
<rect x="669" y="343" width="3" height="4" fill="#ff4500"/>
<rect x="678" y="317" width="1" height="37" fill="#32cd32"/>
<rect x="676" y="340" width="5" height="9" fill="#32cd32"/>
<rect x="686" y="307" width="1" height="57" fill="#ff0000"/>
<rect x="684" y="310" width="5" height="39" fill="#ff0000"/>
<rect x="685" y="311" width="3" height="37" fill="#ff4500"/>
<rect x="694" y="309" width="1" height="38" fill="#ff0000"/>
<rect x="692" y="309" width="5" height="2" fill="#ff0000"/>
<rect x="702" y="290" width="1" height="21" fill="#ff0000"/>
<rect x="700" y="294" width="5" height="16" fill="#ff0000"/>
<rect x="701" y="295" width="3" height="14" fill="#ff4500"/>
<rect x="710" y="286" width="1" height="25" fill="#32cd32"/>
<rect x="708" y="294" width="5" height="3" fill="#32cd32"/>
<rect x="718" y="275" width="1" height="27" fill="#ff0000"/>
<rect x="716" y="283" width="5" height="14" fill="#ff0000"/>
<rect x="717" y="284" width="3" height="12" fill="#ff4500"/>
<rect x="726" y="275" width="1" height="45" fill="#32cd32"/>
<rect x="724" y="282" width="5" height="23" fill="#32cd32"/>
<rect x="734" y="285" width="1" height="42" fill="#ff0000"/>
<rect x="732" y="302" width="5" height="3" fill="#ff0000"/>
<rect x="733" y="303" width="3" height="1" fill="#ff4500"/>
<rect x="742" y="294" width="1" height="71" fill="#32cd32"/>
<rect x="740" y="301" width="5" height="57" fill="#32cd32"/>
<rect x="750" y="357" width="1" height="8" fill="#32cd32"/>
<rect x="748" y="360" width="5" height="4" fill="#32cd32"/>
<rect x="758" y="352" width="1" height="37" fill="#ff0000"/>
<rect x="756" y="360" width="5" height="2" fill="#ff0000"/>
<rect x="766" y="346" width="1" height="26" fill="#32cd32"/>
<rect x="764" y="360" width="5" height="11" fill="#32cd32"/>
<rect x="774" y="367" width="1" height="34" fill="#32cd32"/>
<rect x="772" y="370" width="5" height="31" fill="#32cd32"/>
<rect x="782" y="393" width="1" height="42" fill="#32cd32"/>
<rect x="780" y="401" width="5" height="25" fill="#32cd32"/>
<rect x="790" y="362" width="1" height="68" fill="#ff0000"/>
<rect x="788" y="366" width="5" height="61" fill="#ff0000"/>
<rect x="789" y="367" width="3" height="59" fill="#ff4500"/>
<rect x="798" y="357" width="1" height="13" fill="#ff0000"/>
<rect x="796" y="360" width="5" height="6" fill="#ff0000"/>
<rect x="797" y="361" width="3" height="4" fill="#ff4500"/>
<rect x="806" y="318" width="1" height="50" fill="#ff0000"/>
<rect x="804" y="330" width="5" height="33" fill="#ff0000"/>
<rect x="805" y="331" width="3" height="31" fill="#ff4500"/>
<rect x="814" y="322" width="1" height="44" fill="#32cd32"/>
<rect x="812" y="330" width="5" height="20" fill="#32cd32"/>
<rect x="822" y="332" width="1" height="26" fill="#ff0000"/>
<rect x="820" y="335" width="5" height="15" fill="#ff0000"/>
<rect x="821" y="336" width="3" height="13" fill="#ff4500"/>
<rect x="830" y="319" width="1" height="23" fill="#ff0000"/>
<rect x="828" y="329" width="5" height="8" fill="#ff0000"/>
<rect x="829" y="330" width="3" height="6" fill="#ff4500"/>
<rect x="838" y="306" width="1" height="28" fill="#ff0000"/>
<rect x="836" y="323" width="5" height="6" fill="#ff0000"/>
<rect x="837" y="324" width="3" height="4" fill="#ff4500"/>
<rect x="846" y="317" width="1" height="7" fill="#ff0000"/>
<rect x="844" y="322" width="5" height="2" fill="#ff0000"/>
<rect x="854" y="297" width="1" height="51" fill="#ff0000"/>
<rect x="852" y="297" width="5" height="26" fill="#ff0000"/>
<rect x="853" y="298" width="3" height="24" fill="#ff4500"/>
<rect x="862" y="287" width="1" height="46" fill="#32cd32"/>
<rect x="860" y="297" width="5" height="35" fill="#32cd32"/>
<rect x="870" y="326" width="1" height="30" fill="#ff0000"/>
<rect x="868" y="331" width="5" height="1" fill="#ff0000"/>
<rect x="878" y="314" width="1" height="36" fill="#ff0000"/>
<rect x="876" y="319" width="5" height="14" fill="#ff0000"/>
<rect x="877" y="320" width="3" height="12" fill="#ff4500"/>
<rect x="886" y="307" width="1" height="26" fill="#32cd32"/>
<rect x="884" y="319" width="5" height="7" fill="#32cd32"/>
<rect x="894" y="324" width="1" height="17" fill="#32cd32"/>
<rect x="892" y="325" width="5" height="15" fill="#32cd32"/>
<rect x="902" y="332" width="1" height="22" fill="#ff0000"/>
<rect x="900" y="333" width="5" height="7" fill="#ff0000"/>
<rect x="901" y="334" width="3" height="5" fill="#ff4500"/>
<rect x="910" y="324" width="1" height="16" fill="#ff0000"/>
<rect x="908" y="325" width="5" height="9" fill="#ff0000"/>
<rect x="909" y="326" width="3" height="7" fill="#ff4500"/>
</g>
<line x1="7" y1="470.5" x2="1156" y2="470.5" stroke="#c0c0c0" stroke-width="1" stroke-dasharray="3,3"/>
<line x1="7" y1="500.5" x2="1156" y2="500.5" stroke="#c0c0c0" stroke-width="1" stroke-dasharray="3,3"/>
<path d="M158 486h1v1h-1zM182 486h18v1h-18zM256 486h4v1h-4zM274 486h3v1h-3zM293 486h10v1h-10zM368 486h1v1h-1zM420 486h1v1h-1zM426 486h3v1h-3zM453 486h13v1h-13zM495 486h2v1h-2zM517 486h5v1h-5zM826 486h8v1h-8zM860 486h2v1h-2zM872 486h4v1h-4zM882 486h6v1h-6zM904 486h4v1h-4zM12 480h1v1h-1zM17 480h1v1h-1zM44 480h4v1h-4zM155 480h1v1h-1zM212 480h2v1h-2zM218 480h6v1h-6zM235 480h2v1h-2zM333 480h5v1h-5zM343 480h1v1h-1zM358 480h2v1h-2zM159 487h1v1h-1zM181 487h1v1h-1zM260 487h6v1h-6zM272 487h2v1h-2zM369 487h1v1h-1zM418 487h2v1h-2zM429 487h2v1h-2zM451 487h2v1h-2zM466 487h16v1h-16zM490 487h5v1h-5zM522 487h6v1h-6zM806 487h2v1h-2zM820 487h6v1h-6zM862 487h10v1h-10zM888 487h4v1h-4zM898 487h6v1h-6zM157 485h1v1h-1zM200 485h4v1h-4zM253 485h3v1h-3zM277 485h3v1h-3zM290 485h3v1h-3zM303 485h2v1h-2zM350 485h1v1h-1zM368 485h1v1h-1zM421 485h1v1h-1zM424 485h2v1h-2zM497 485h2v1h-2zM515 485h2v1h-2zM834 485h13v1h-13zM859 485h1v1h-1zM876 485h6v1h-6zM908 485h3v1h-3zM637 504h3v1h-3zM666 504h13v1h-13zM776 504h4v1h-4zM783 504h1v1h-1zM14 482h1v1h-1zM156 482h1v1h-1zM209 482h1v1h-1zM242 482h6v1h-6zM309 482h5v1h-5zM320 482h2v1h-2zM329 482h2v1h-2zM346 482h1v1h-1zM354 482h2v1h-2zM364 482h3v1h-3zM506 482h5v1h-5zM851 482h2v1h-2zM855 482h1v1h-1zM160 488h2v1h-2zM180 488h1v1h-1zM266 488h6v1h-6zM370 488h1v1h-1zM417 488h1v1h-1zM431 488h2v1h-2zM449 488h2v1h-2zM482 488h8v1h-8zM528 488h2v1h-2zM804 488h2v1h-2zM808 488h4v1h-4zM816 488h4v1h-4zM892 488h6v1h-6zM645 507h11v1h-11zM8 475h1v1h-1zM58 475h2v1h-2zM65 475h1v1h-1zM84 475h6v1h-6zM96 475h4v1h-4zM114 475h14v1h-14zM152 475h1v1h-1zM635 503h2v1h-2zM679 503h1v1h-1zM773 503h3v1h-3zM783 503h1v1h-1zM156 483h1v1h-1zM207 483h2v1h-2zM248 483h2v1h-2zM284 483h4v1h-4zM307 483h2v1h-2zM322 483h3v1h-3zM327 483h2v1h-2zM347 483h1v1h-1zM353 483h1v1h-1zM367 483h1v1h-1zM501 483h5v1h-5zM511 483h2v1h-2zM849 483h2v1h-2zM856 483h2v1h-2zM163 490h1v1h-1zM177 490h1v1h-1zM371 490h1v1h-1zM415 490h1v1h-1zM435 490h2v1h-2zM442 490h5v1h-5zM533 490h21v1h-21zM581 490h5v1h-5zM592 490h2v1h-2zM714 490h3v1h-3zM719 490h2v1h-2zM801 490h1v1h-1zM170 493h5v1h-5zM373 493h1v1h-1zM393 493h2v1h-2zM564 493h6v1h-6zM575 493h2v1h-2zM602 493h5v1h-5zM698 493h3v1h-3zM725 493h5v1h-5zM735 493h1v1h-1zM790 493h4v1h-4zM10 477h1v1h-1zM22 477h12v1h-12zM55 477h2v1h-2zM68 477h2v1h-2zM74 477h6v1h-6zM153 477h1v1h-1zM229 477h2v1h-2zM166 492h4v1h-4zM175 492h1v1h-1zM372 492h1v1h-1zM395 492h2v1h-2zM560 492h4v1h-4zM577 492h2v1h-2zM597 492h5v1h-5zM701 492h11v1h-11zM723 492h2v1h-2zM730 492h5v1h-5zM794 492h5v1h-5zM164 491h2v1h-2zM176 491h1v1h-1zM372 491h1v1h-1zM397 491h18v1h-18zM437 491h5v1h-5zM554 491h6v1h-6zM579 491h2v1h-2zM594 491h3v1h-3zM712 491h2v1h-2zM721 491h2v1h-2zM799 491h2v1h-2zM375 496h2v1h-2zM388 496h2v1h-2zM611 496h2v1h-2zM616 496h2v1h-2zM624 496h2v1h-2zM685 496h1v1h-1zM738 496h2v1h-2zM788 496h1v1h-1zM380 499h2v1h-2zM383 499h2v1h-2zM628 499h2v1h-2zM682 499h1v1h-1zM742 499h4v1h-4zM754 499h8v1h-8zM786 499h1v1h-1zM373 494h1v1h-1zM391 494h2v1h-2zM570 494h5v1h-5zM607 494h2v1h-2zM621 494h2v1h-2zM696 494h2v1h-2zM736 494h1v1h-1zM789 494h1v1h-1zM631 501h2v1h-2zM681 501h1v1h-1zM768 501h2v1h-2zM785 501h1v1h-1zM13 481h1v1h-1zM15 481h2v1h-2zM155 481h1v1h-1zM210 481h2v1h-2zM237 481h5v1h-5zM314 481h6v1h-6zM331 481h2v1h-2zM344 481h2v1h-2zM356 481h2v1h-2zM360 481h4v1h-4zM853 481h2v1h-2zM642 506h3v1h-3zM656 506h4v1h-4zM9 476h1v1h-1zM57 476h1v1h-1zM66 476h2v1h-2zM80 476h4v1h-4zM90 476h6v1h-6zM153 476h1v1h-1zM157 484h1v1h-1zM204 484h3v1h-3zM250 484h3v1h-3zM280 484h4v1h-4zM288 484h2v1h-2zM305 484h2v1h-2zM325 484h2v1h-2zM348 484h2v1h-2zM351 484h2v1h-2zM367 484h1v1h-1zM422 484h2v1h-2zM499 484h2v1h-2zM513 484h2v1h-2zM847 484h2v1h-2zM858 484h1v1h-1zM378 498h2v1h-2zM385 498h1v1h-1zM627 498h1v1h-1zM683 498h1v1h-1zM741 498h1v1h-1zM787 498h1v1h-1zM162 489h1v1h-1zM178 489h2v1h-2zM370 489h1v1h-1zM416 489h1v1h-1zM433 489h2v1h-2zM447 489h2v1h-2zM530 489h3v1h-3zM586 489h6v1h-6zM717 489h2v1h-2zM802 489h2v1h-2zM812 489h4v1h-4zM374 495h1v1h-1zM390 495h1v1h-1zM609 495h2v1h-2zM618 495h3v1h-3zM623 495h1v1h-1zM686 495h10v1h-10zM737 495h1v1h-1zM789 495h1v1h-1zM10 478h1v1h-1zM20 478h2v1h-2zM34 478h6v1h-6zM52 478h3v1h-3zM70 478h4v1h-4zM154 478h1v1h-1zM226 478h3v1h-3zM231 478h2v1h-2zM377 497h1v1h-1zM386 497h2v1h-2zM613 497h3v1h-3zM626 497h1v1h-1zM684 497h1v1h-1zM740 497h1v1h-1zM787 497h1v1h-1zM382 500h1v1h-1zM630 500h1v1h-1zM682 500h1v1h-1zM746 500h8v1h-8zM762 500h6v1h-6zM785 500h1v1h-1zM640 505h2v1h-2zM660 505h6v1h-6zM780 505h3v1h-3zM7 474h1v1h-1zM60 474h2v1h-2zM63 474h2v1h-2zM100 474h14v1h-14zM128 474h2v1h-2zM152 474h1v1h-1zM6 473h1v1h-1zM62 473h1v1h-1zM130 473h3v1h-3zM151 473h1v1h-1zM11 479h1v1h-1zM18 479h2v1h-2zM40 479h4v1h-4zM48 479h4v1h-4zM154 479h1v1h-1zM214 479h4v1h-4zM224 479h2v1h-2zM233 479h2v1h-2zM338 479h5v1h-5zM133 472h13v1h-13zM151 472h1v1h-1zM146 471h5v1h-5zM633 502h2v1h-2zM680 502h1v1h-1zM770 502h3v1h-3zM784 502h1v1h-1z" fill="#1e90ff"/>
<rect x="6" y="534" width="2" height="25" fill="#c0c0c0"/>
<rect x="13" y="534" width="3" height="25" fill="#c0c0c0"/>
<rect x="21" y="534" width="3" height="25" fill="#c0c0c0"/>
<rect x="29" y="534" width="3" height="25" fill="#c0c0c0"/>
<rect x="37" y="534" width="3" height="25" fill="#c0c0c0"/>
<rect x="45" y="534" width="3" height="25" fill="#c0c0c0"/>
<rect x="53" y="534" width="3" height="25" fill="#c0c0c0"/>
<rect x="61" y="534" width="3" height="25" fill="#c0c0c0"/>
<rect x="69" y="534" width="3" height="25" fill="#c0c0c0"/>
<rect x="77" y="534" width="3" height="25" fill="#c0c0c0"/>
<rect x="85" y="534" width="3" height="25" fill="#c0c0c0"/>
<rect x="93" y="534" width="3" height="25" fill="#c0c0c0"/>
<rect x="101" y="534" width="3" height="25" fill="#c0c0c0"/>
<rect x="109" y="534" width="3" height="25" fill="#c0c0c0"/>
<rect x="117" y="534" width="3" height="25" fill="#c0c0c0"/>
<rect x="125" y="534" width="3" height="25" fill="#c0c0c0"/>
<rect x="133" y="534" width="3" height="25" fill="#c0c0c0"/>
<rect x="141" y="534" width="3" height="25" fill="#c0c0c0"/>
<rect x="149" y="534" width="3" height="25" fill="#c0c0c0"/>
<rect x="157" y="534" width="3" height="25" fill="#c0c0c0"/>
<rect x="165" y="543" width="3" height="16" fill="#c0c0c0"/>
<rect x="173" y="549" width="3" height="10" fill="#c0c0c0"/>
<rect x="181" y="551" width="3" height="8" fill="#c0c0c0"/>
<rect x="189" y="553" width="3" height="6" fill="#c0c0c0"/>
<rect x="197" y="555" width="3" height="4" fill="#c0c0c0"/>
<rect x="205" y="555" width="3" height="4" fill="#c0c0c0"/>
<rect x="213" y="553" width="3" height="6" fill="#c0c0c0"/>
<rect x="221" y="552" width="3" height="7" fill="#c0c0c0"/>
<rect x="229" y="549" width="3" height="10" fill="#c0c0c0"/>
<rect x="237" y="548" width="3" height="11" fill="#c0c0c0"/>
<rect x="245" y="549" width="3" height="10" fill="#c0c0c0"/>
<rect x="253" y="550" width="3" height="9" fill="#c0c0c0"/>
<rect x="261" y="553" width="3" height="6" fill="#c0c0c0"/>
<rect x="269" y="555" width="3" height="4" fill="#c0c0c0"/>
<rect x="277" y="556" width="3" height="3" fill="#c0c0c0"/>
<rect x="285" y="555" width="3" height="4" fill="#c0c0c0"/>
<rect x="293" y="556" width="3" height="3" fill="#c0c0c0"/>
<rect x="301" y="557" width="3" height="2" fill="#c0c0c0"/>
<rect x="309" y="556" width="3" height="3" fill="#c0c0c0"/>
<rect x="317" y="555" width="3" height="4" fill="#c0c0c0"/>
<rect x="325" y="555" width="3" height="4" fill="#c0c0c0"/>
<rect x="333" y="554" width="3" height="5" fill="#c0c0c0"/>
<rect x="341" y="552" width="3" height="7" fill="#c0c0c0"/>
<rect x="349" y="553" width="3" height="6" fill="#c0c0c0"/>
<rect x="357" y="552" width="3" height="7" fill="#c0c0c0"/>
<rect x="365" y="552" width="3" height="7" fill="#c0c0c0"/>
<rect x="373" y="559" width="3" height="1" fill="#c0c0c0"/>
<rect x="381" y="559" width="3" height="11" fill="#c0c0c0"/>
<rect x="389" y="559" width="3" height="17" fill="#c0c0c0"/>
<rect x="397" y="559" width="3" height="18" fill="#c0c0c0"/>
<rect x="405" y="559" width="3" height="19" fill="#c0c0c0"/>
<rect x="413" y="559" width="3" height="20" fill="#c0c0c0"/>
<rect x="421" y="559" width="3" height="17" fill="#c0c0c0"/>
<rect x="429" y="559" width="3" height="16" fill="#c0c0c0"/>
<rect x="437" y="559" width="3" height="18" fill="#c0c0c0"/>
<rect x="445" y="559" width="3" height="18" fill="#c0c0c0"/>
<rect x="453" y="559" width="3" height="16" fill="#c0c0c0"/>
<rect x="461" y="559" width="3" height="14" fill="#c0c0c0"/>
<rect x="469" y="559" width="3" height="13" fill="#c0c0c0"/>
<rect x="477" y="559" width="3" height="12" fill="#c0c0c0"/>
<rect x="485" y="559" width="3" height="12" fill="#c0c0c0"/>
<rect x="493" y="559" width="3" height="10" fill="#c0c0c0"/>
<rect x="501" y="559" width="3" height="9" fill="#c0c0c0"/>
<rect x="509" y="559" width="3" height="6" fill="#c0c0c0"/>
<rect x="517" y="559" width="3" height="6" fill="#c0c0c0"/>
<rect x="525" y="559" width="3" height="6" fill="#c0c0c0"/>
<rect x="533" y="559" width="3" height="7" fill="#c0c0c0"/>
<rect x="541" y="559" width="3" height="8" fill="#c0c0c0"/>
<rect x="549" y="559" width="3" height="10" fill="#c0c0c0"/>
<rect x="557" y="559" width="3" height="10" fill="#c0c0c0"/>
<rect x="565" y="559" width="3" height="12" fill="#c0c0c0"/>
<rect x="573" y="559" width="3" height="14" fill="#c0c0c0"/>
<rect x="581" y="559" width="3" height="14" fill="#c0c0c0"/>
<rect x="589" y="559" width="3" height="13" fill="#c0c0c0"/>
<rect x="597" y="559" width="3" height="14" fill="#c0c0c0"/>
<rect x="605" y="559" width="3" height="15" fill="#c0c0c0"/>
<rect x="613" y="559" width="3" height="17" fill="#c0c0c0"/>
<rect x="621" y="559" width="3" height="18" fill="#c0c0c0"/>
<rect x="629" y="559" width="3" height="22" fill="#c0c0c0"/>
<rect x="637" y="559" width="3" height="29" fill="#c0c0c0"/>
<rect x="645" y="559" width="3" height="37" fill="#c0c0c0"/>
<rect x="653" y="559" width="3" height="43" fill="#c0c0c0"/>
<rect x="661" y="559" width="3" height="46" fill="#c0c0c0"/>
<rect x="669" y="559" width="3" height="48" fill="#c0c0c0"/>
<rect x="677" y="559" width="3" height="50" fill="#c0c0c0"/>
<rect x="685" y="559" width="3" height="47" fill="#c0c0c0"/>
<rect x="693" y="559" width="3" height="45" fill="#c0c0c0"/>
<rect x="701" y="559" width="3" height="41" fill="#c0c0c0"/>
<rect x="709" y="559" width="3" height="38" fill="#c0c0c0"/>
<rect x="717" y="559" width="3" height="34" fill="#c0c0c0"/>
<rect x="725" y="559" width="3" height="32" fill="#c0c0c0"/>
<rect x="733" y="559" width="3" height="30" fill="#c0c0c0"/>
<rect x="741" y="559" width="3" height="33" fill="#c0c0c0"/>
<rect x="749" y="559" width="3" height="35" fill="#c0c0c0"/>
<rect x="757" y="559" width="3" height="36" fill="#c0c0c0"/>
<rect x="765" y="559" width="3" height="37" fill="#c0c0c0"/>
<rect x="773" y="559" width="3" height="40" fill="#c0c0c0"/>
<rect x="781" y="559" width="3" height="44" fill="#c0c0c0"/>
<rect x="789" y="559" width="3" height="41" fill="#c0c0c0"/>
<rect x="797" y="559" width="3" height="39" fill="#c0c0c0"/>
<rect x="805" y="559" width="3" height="34" fill="#c0c0c0"/>
<rect x="813" y="559" width="3" height="31" fill="#c0c0c0"/>
<rect x="821" y="559" width="3" height="28" fill="#c0c0c0"/>
<rect x="829" y="559" width="3" height="24" fill="#c0c0c0"/>
<rect x="837" y="559" width="3" height="20" fill="#c0c0c0"/>
<rect x="845" y="559" width="3" height="17" fill="#c0c0c0"/>
<rect x="853" y="559" width="3" height="13" fill="#c0c0c0"/>
<rect x="861" y="559" width="3" height="12" fill="#c0c0c0"/>
<rect x="869" y="559" width="3" height="11" fill="#c0c0c0"/>
<rect x="877" y="559" width="3" height="9" fill="#c0c0c0"/>
<rect x="885" y="559" width="3" height="8" fill="#c0c0c0"/>
<rect x="893" y="559" width="3" height="8" fill="#c0c0c0"/>
<rect x="901" y="559" width="3" height="8" fill="#c0c0c0"/>
<rect x="909" y="559" width="3" height="7" fill="#c0c0c0"/>
<path d="M432 570h2v1h-2zM506 570h8v1h-8zM602 570h8v1h-8zM900 570h4v1h-4zM90 534h40v1h-40zM168 534h4v1h-4zM682 595h3v1h-3zM746 595h8v1h-8zM794 595h8v1h-8zM810 595h14v1h-14zM234 552h16v1h-16zM274 552h24v1h-24zM450 576h8v1h-8zM640 576h2v1h-2zM874 576h3v1h-3zM130 533h38v1h-38zM680 594h2v1h-2zM754 594h8v1h-8zM786 594h8v1h-8zM824 594h4v1h-4zM693 599h3v1h-3zM724 599h6v1h-6zM228 551h6v1h-6zM250 551h24v1h-24zM678 593h2v1h-2zM762 593h24v1h-24zM828 593h4v1h-4zM440 573h2v1h-2zM474 573h16v1h-16zM626 573h6v1h-6zM884 573h6v1h-6zM413 566h5v1h-5zM538 566h32v1h-32zM74 535h16v1h-16zM172 535h4v1h-4zM224 550h4v1h-4zM424 568h4v1h-4zM520 568h4v1h-4zM578 568h8v1h-8zM908 568h3v1h-3zM208 546h4v1h-4zM661 585h3v1h-3zM853 585h2v1h-2zM428 569h4v1h-4zM514 569h6v1h-6zM586 569h16v1h-16zM904 569h4v1h-4zM6 539h4v1h-4zM186 539h3v1h-3zM434 571h3v1h-3zM498 571h8v1h-8zM610 571h8v1h-8zM896 571h4v1h-4zM34 536h40v1h-40zM176 536h4v1h-4zM648 579h2v1h-2zM866 579h3v1h-3zM200 543h2v1h-2zM388 558h4v1h-4zM306 554h8v1h-8zM354 554h22v1h-22zM442 574h3v1h-3zM466 574h8v1h-8zM632 574h4v1h-4zM880 574h4v1h-4zM674 591h2v1h-2zM836 591h4v1h-4zM202 544h3v1h-3zM690 598h3v1h-3zM730 598h6v1h-6zM18 537h16v1h-16zM180 537h4v1h-4zM700 601h6v1h-6zM714 601h6v1h-6zM437 572h3v1h-3zM490 572h8v1h-8zM618 572h8v1h-8zM890 572h6v1h-6zM445 575h5v1h-5zM458 575h8v1h-8zM636 575h4v1h-4zM877 575h3v1h-3zM642 577h3v1h-3zM872 577h2v1h-2zM418 567h6v1h-6zM524 567h14v1h-14zM570 567h8v1h-8zM671 589h2v1h-2zM842 589h3v1h-3zM314 555h40v1h-40zM376 555h4v1h-4zM685 596h3v1h-3zM740 596h6v1h-6zM802 596h8v1h-8zM384 557h4v1h-4zM666 587h3v1h-3zM848 587h2v1h-2zM657 583h2v1h-2zM857 583h2v1h-2zM706 602h8v1h-8zM10 538h8v1h-8zM184 538h2v1h-2zM189 540h3v1h-3zM659 584h2v1h-2zM855 584h2v1h-2zM650 580h3v1h-3zM864 580h2v1h-2zM392 559h4v1h-4zM212 547h4v1h-4zM676 592h2v1h-2zM832 592h4v1h-4zM655 582h2v1h-2zM859 582h2v1h-2zM645 578h3v1h-3zM869 578h3v1h-3zM688 597h2v1h-2zM736 597h4v1h-4zM669 588h2v1h-2zM845 588h3v1h-3zM696 600h4v1h-4zM720 600h4v1h-4zM396 560h4v1h-4zM216 548h4v1h-4zM298 553h8v1h-8zM400 561h2v1h-2zM192 541h4v1h-4zM380 556h4v1h-4zM673 590h1v1h-1zM840 590h2v1h-2zM220 549h4v1h-4zM664 586h2v1h-2zM850 586h3v1h-3zM196 542h4v1h-4zM405 563h3v1h-3zM653 581h2v1h-2zM861 581h3v1h-3zM410 565h3v1h-3zM205 545h3v1h-3zM402 562h3v1h-3zM408 564h2v1h-2z" fill="#ff0000"/>
<rect x="1157" y="45" width="2" height="1" fill="#000"/>
<rect x="1157" y="78" width="2" height="1" fill="#000"/>
<rect x="1157" y="111" width="2" height="1" fill="#000"/>
<rect x="1157" y="144" width="2" height="1" fill="#000"/>
<rect x="1157" y="177" width="2" height="1" fill="#000"/>
<rect x="1157" y="210" width="2" height="1" fill="#000"/>
<rect x="1157" y="243" width="2" height="1" fill="#000"/>
<rect x="1157" y="276" width="2" height="1" fill="#000"/>
<rect x="1157" y="309" width="2" height="1" fill="#000"/>
<rect x="1157" y="342" width="2" height="1" fill="#000"/>
<rect x="1157" y="375" width="2" height="1" fill="#000"/>
<rect x="1157" y="408" width="2" height="1" fill="#000"/>
<rect x="1157" y="441" width="2" height="1" fill="#000"/>
<rect x="1157" y="448" width="1" height="1" fill="#000"/>
<rect x="1157" y="522" width="1" height="1" fill="#000"/>
<rect x="1157" y="527" width="1" height="1" fill="#000"/>
<rect x="1157" y="610" width="1" height="1" fill="#000"/>
<rect x="1157" y="559" width="2" height="1" fill="#000"/>
<rect x="6" y="613" width="1" height="3" fill="#000"/>
<rect x="70" y="613" width="1" height="3" fill="#000"/>
<rect x="134" y="613" width="1" height="3" fill="#000"/>
<rect x="198" y="613" width="1" height="3" fill="#000"/>
<rect x="262" y="613" width="1" height="3" fill="#000"/>
<rect x="326" y="613" width="1" height="3" fill="#000"/>
<rect x="390" y="613" width="1" height="3" fill="#000"/>
<rect x="454" y="613" width="1" height="3" fill="#000"/>
<rect x="518" y="613" width="1" height="3" fill="#000"/>
<rect x="582" y="613" width="1" height="3" fill="#000"/>
<rect x="646" y="613" width="1" height="3" fill="#000"/>
<rect x="710" y="613" width="1" height="3" fill="#000"/>
<rect x="774" y="613" width="1" height="3" fill="#000"/>
<rect x="838" y="613" width="1" height="3" fill="#000"/>
<rect x="902" y="613" width="1" height="3" fill="#000"/>
<rect x="1158" y="320" width="41" height="11" fill="#000"/>
<rect x="3" y="633" width="1199" height="1" fill="#ececec"/>
<rect x="3" y="634" width="1199" height="1" fill="#e4e4e4"/>
<rect x="1" y="635" width="1203" height="1" fill="#000"/>
<rect x="3" y="636" width="1201" height="18" fill="#f0f0f0"/>
<rect x="420" y="634" width="102" height="19" fill="#ffffff"/>
<rect x="419" y="635" width="1" height="19" fill="#000"/>
<rect x="522" y="635" width="1" height="19" fill="#000"/>
<rect x="419" y="653" width="104" height="1" fill="#000"/>
<rect x="0" y="655" width="1204" height="1" fill="#fcfcfc"/>
<rect x="0" y="659" width="1204" height="1" fill="#b4b4b4"/>
<rect x="0" y="660" width="1204" height="1" fill="#e8e8e8"/>
<rect x="111" y="638" width="1" height="14" fill="#808080"/>
<rect x="215" y="638" width="1" height="14" fill="#808080"/>
<rect x="315" y="638" width="1" height="14" fill="#808080"/>
<rect x="635" y="638" width="1" height="14" fill="#808080"/>
<rect x="738" y="638" width="1" height="14" fill="#808080"/>
<rect x="842" y="638" width="1" height="14" fill="#808080"/>
<rect x="931" y="638" width="1" height="14" fill="#808080"/>
<rect x="1035" y="638" width="1" height="14" fill="#808080"/>
<rect x="1103" y="638" width="1" height="14" fill="#808080"/>
<rect x="1202" y="28" width="1" height="606" fill="#e3e3e3"/>
<rect x="1203" y="26" width="1" height="608" fill="#f8f8f8"/>
</g>
<polygon points="9,37 16,37 12.5,41" fill="#000"/>
<polygon points="1175.5,641 1175.5,647 1172,644" fill="#909090"/>
<polygon points="1190.5,640.5 1190.5,647.5 1194.5,644" fill="#000"/>
<text x="5.7" y="17.9" font-size="9.5" fill="#383838" text-anchor="start"  >M30</text>
<text x="36.7" y="17.9" font-size="9.5" fill="#383838" text-anchor="start"  >H1</text>
<text x="63.7" y="17.9" font-size="9.5" fill="#383838" text-anchor="start"  >H4</text>
<text x="92.5" y="17.9" font-size="9.5" fill="#383838" text-anchor="start"  >D1</text>
<text x="120" y="17.9" font-size="9.5" fill="#383838" text-anchor="start"  >W1</text>
<text x="146.8" y="17.9" font-size="9.5" fill="#383838" text-anchor="start"  >MN</text>
<text x="21.5" y="41.5" font-size="9.6" fill="#000" text-anchor="start" stroke="#000" stroke-width="0.25" >USDCNH,Daily</text>
<text x="93" y="41.5" font-size="9.2" fill="#000" text-anchor="start" stroke="#000" stroke-width="0.25" >6.77410 6.78086 6.76970 6.78009</text>
<text x="1162" y="48.2" font-size="9.15" fill="#000" text-anchor="start" stroke="#000" stroke-width="0.25" >6.98360</text>
<text x="1162" y="81.2" font-size="9.15" fill="#000" text-anchor="start" stroke="#000" stroke-width="0.25" >6.95980</text>
<text x="1162" y="114.2" font-size="9.15" fill="#000" text-anchor="start" stroke="#000" stroke-width="0.25" >6.93530</text>
<text x="1162" y="147.2" font-size="9.15" fill="#000" text-anchor="start" stroke="#000" stroke-width="0.25" >6.91150</text>
<text x="1162" y="180.2" font-size="9.15" fill="#000" text-anchor="start" stroke="#000" stroke-width="0.25" >6.88770</text>
<text x="1162" y="213.2" font-size="9.15" fill="#000" text-anchor="start" stroke="#000" stroke-width="0.25" >6.86320</text>
<text x="1162" y="246.2" font-size="9.15" fill="#000" text-anchor="start" stroke="#000" stroke-width="0.25" >6.83940</text>
<text x="1162" y="279.2" font-size="9.15" fill="#000" text-anchor="start" stroke="#000" stroke-width="0.25" >6.81560</text>
<text x="1162" y="312.2" font-size="9.15" fill="#000" text-anchor="start" stroke="#000" stroke-width="0.25" >6.79180</text>
<text x="1162" y="345.2" font-size="9.15" fill="#000" text-anchor="start" stroke="#000" stroke-width="0.25" >6.76730</text>
<text x="1162" y="378.2" font-size="9.15" fill="#000" text-anchor="start" stroke="#000" stroke-width="0.25" >6.74350</text>
<text x="1162" y="411.2" font-size="9.15" fill="#000" text-anchor="start" stroke="#000" stroke-width="0.25" >6.71970</text>
<text x="1162" y="444.2" font-size="9.15" fill="#000" text-anchor="start" stroke="#000" stroke-width="0.25" >6.69590</text>
<text x="1162" y="328.7" font-size="9.15" fill="#fff" text-anchor="start" stroke="#fff" stroke-width="0.25" >6.78009</text>
<text x="1159.8" y="456.7" font-size="9.15" fill="#000" text-anchor="start" stroke="#000" stroke-width="0.25" >100</text>
<text x="1159.8" y="473.5" font-size="9.15" fill="#000" text-anchor="start" stroke="#000" stroke-width="0.25" >70</text>
<text x="1159.8" y="503.5" font-size="9.15" fill="#000" text-anchor="start" stroke="#000" stroke-width="0.25" >30</text>
<text x="1160" y="519.5" font-size="9.15" fill="#000" text-anchor="start" stroke="#000" stroke-width="0.25" >0</text>
<text x="1160" y="536" font-size="9.15" fill="#000" text-anchor="start" stroke="#000" stroke-width="0.25" >0.023534</text>
<text x="1160" y="562.7" font-size="9.15" fill="#000" text-anchor="start" stroke="#000" stroke-width="0.25" >0.00</text>
<text x="1160" y="609" font-size="9.15" fill="#000" text-anchor="start" stroke="#000" stroke-width="0.25" >-0.038466</text>
<text x="10" y="458.4" font-size="9.3" fill="#000" text-anchor="start" stroke="#000" stroke-width="0.25" >RSI(14) 49.5860</text>
<text x="10.4" y="537.8" font-size="9.3" fill="#000" text-anchor="start" stroke="#000" stroke-width="0.25" >MACD(12,26,9) -0.004412 -0.006958</text>
<text x="5.6" y="624.7" font-size="9.2" fill="#000" text-anchor="start" stroke="#000" stroke-width="0.25" >10 Oct 2018</text>
<text x="69.6" y="624.7" font-size="9.2" fill="#000" text-anchor="start" stroke="#000" stroke-width="0.25" >19 Oct 2018</text>
<text x="133.6" y="624.7" font-size="9.2" fill="#000" text-anchor="start" stroke="#000" stroke-width="0.25" >29 Oct 2018</text>
<text x="197.6" y="624.7" font-size="9.2" fill="#000" text-anchor="start" stroke="#000" stroke-width="0.25" >7 Nov 2018</text>
<text x="261.6" y="624.7" font-size="9.2" fill="#000" text-anchor="start" stroke="#000" stroke-width="0.25" >16 Nov 2018</text>
<text x="325.6" y="624.7" font-size="9.2" fill="#000" text-anchor="start" stroke="#000" stroke-width="0.25" >26 Nov 2018</text>
<text x="389.6" y="624.7" font-size="9.2" fill="#000" text-anchor="start" stroke="#000" stroke-width="0.25" >5 Dec 2018</text>
<text x="453.6" y="624.7" font-size="9.2" fill="#000" text-anchor="start" stroke="#000" stroke-width="0.25" >14 Dec 2018</text>
<text x="517.6" y="624.7" font-size="9.2" fill="#000" text-anchor="start" stroke="#000" stroke-width="0.25" >24 Dec 2018</text>
<text x="581.6" y="624.7" font-size="9.2" fill="#000" text-anchor="start" stroke="#000" stroke-width="0.25" >2 Jan 2019</text>
<text x="645.6" y="624.7" font-size="9.2" fill="#000" text-anchor="start" stroke="#000" stroke-width="0.25" >11 Jan 2019</text>
<text x="709.6" y="624.7" font-size="9.2" fill="#000" text-anchor="start" stroke="#000" stroke-width="0.25" >21 Jan 2019</text>
<text x="773.6" y="624.7" font-size="9.2" fill="#000" text-anchor="start" stroke="#000" stroke-width="0.25" >30 Jan 2019</text>
<text x="837.6" y="624.7" font-size="9.2" fill="#000" text-anchor="start" stroke="#000" stroke-width="0.25" >8 Feb 2019</text>
<text x="901.6" y="624.7" font-size="9.2" fill="#000" text-anchor="start" stroke="#000" stroke-width="0.25" >18 Feb 2019</text>
<text x="19.5" y="649.7" font-size="11.9" fill="#666666" text-anchor="start"  >EURUSD,Daily</text>
<text x="122" y="649.7" font-size="11.9" fill="#666666" text-anchor="start"  >AUDUSD,Daily</text>
<text x="225.7" y="649.7" font-size="11.9" fill="#666666" text-anchor="start"  >USDCHF,Daily</text>
<text x="326" y="649.7" font-size="11.9" fill="#666666" text-anchor="start"  >USDCAD,Daily</text>
<text x="534.3" y="649.7" font-size="11.9" fill="#666666" text-anchor="start"  >USDJPY,Weekly</text>
<text x="645.7" y="649.7" font-size="11.9" fill="#666666" text-anchor="start"  >XAUUSD,Daily</text>
<text x="751" y="649.7" font-size="11.9" fill="#666666" text-anchor="start"  >GBPUSD,Daily</text>
<text x="854.6" y="649.7" font-size="11.9" fill="#666666" text-anchor="start"  >SP500,M15</text>
<text x="943.4" y="649.7" font-size="11.9" fill="#666666" text-anchor="start"  >GBPUSD,Daily</text>
<text x="1045.5" y="649.7" font-size="11.9" fill="#666666" text-anchor="start"  >DJ30,H4</text>
<clipPath id="ct"><rect x="1100" y="636" width="67.5" height="18"/></clipPath>
<text x="1113.8" y="649.7" font-size="11.9" fill="#606060" text-anchor="start"  clip-path="url(#ct)">TECH100,Daily</text>
<text x="429.5" y="649.7" font-size="12.05" fill="#000" text-anchor="start"  >USDCNH,Daily</text>
</svg></body></html>
